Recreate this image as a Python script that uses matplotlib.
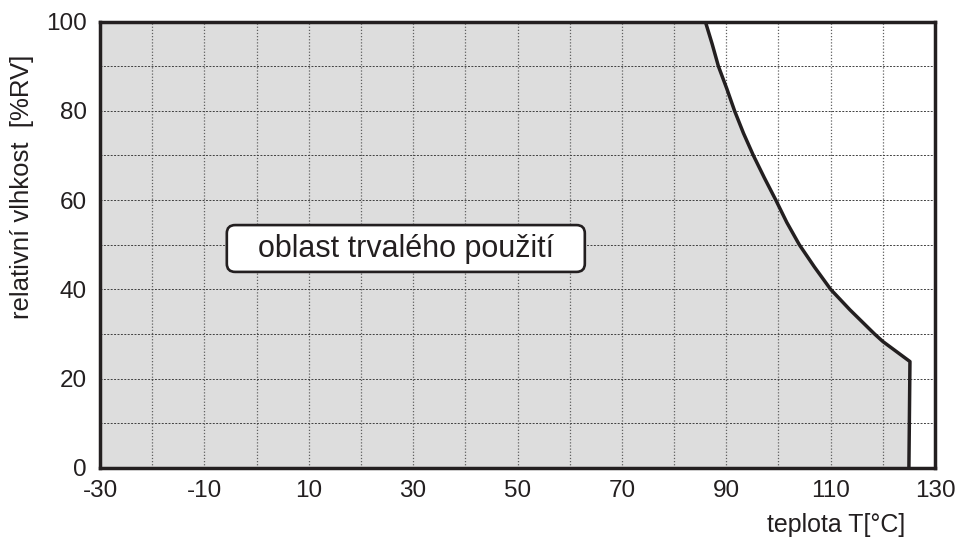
import matplotlib.pyplot as plt
from matplotlib.patches import FancyBboxPatch
import numpy as np

plt.rcParams['font.family'] = ['Liberation Sans', 'DejaVu Sans']
plt.rcParams['axes.unicode_minus'] = False

# hranice oblasti trvaleho pouziti
temp = [86.0, 87.3, 88.5, 90.1, 91.6, 93.3, 95.2, 97.3, 99.5, 101.6, 104.0,
        106.9, 110.0, 113.7, 118.4, 120.0, 125.2, 125.0]
rh = [100, 95, 90, 85, 80, 75, 70, 65, 60, 55, 50, 45, 40, 35.4, 30, 28.3, 23.8, 0]

x_labels = [-30, -10, 10, 30, 50, 70, 90, 110, 130]
y_labels = [0, 20, 40, 60, 80, 100]

ink = '#231f20'

fig = plt.figure(figsize=(9.6, 5.37), dpi=100)
ax = fig.add_axes([100/960, 1-467.7/537, 835/960, 446/537])

ax.set_xlim(-30, 130)
ax.set_ylim(0, 100)

fill_x = [-30] + temp + [-30]
fill_y = [100] + rh + [0]
ax.fill(fill_x, fill_y, color='#dddddd', zorder=1, lw=0)

ax.set_xticks(x_labels)
ax.set_xticks(np.arange(-20, 130, 20), minor=True)
ax.set_yticks(y_labels)
ax.set_yticks(np.arange(10, 100, 20), minor=True)
ax.tick_params(which='both', length=0)
ax.tick_params(axis='x', pad=9, labelsize=17.5, colors=ink)
ax.tick_params(axis='y', pad=9.5, labelsize=17.5, colors=ink)

ax.xaxis.grid(True, which='both', color='#606060', ls=(0, (1, 1.5)), lw=0.9, zorder=2)
ax.yaxis.grid(True, which='both', color='#404040', ls=(0, (2, 1.5)), lw=0.7, zorder=2)
ax.set_axisbelow(False)

ax.plot(temp, rh, color=ink, lw=2.5, zorder=3, solid_joinstyle='round')

for s in ax.spines.values():
    s.set_linewidth(2.5)
    s.set_color(ink)
    s.set_zorder(5)

box = FancyBboxPatch((-5.7, 43.9), 68.6, 10.5, boxstyle='round,pad=0,rounding_size=1.6',
                     fc='white', ec=ink, lw=1.9, zorder=6, mutation_aspect=1.15)
ax.add_patch(box)
ax.text(28.6, 49.0, 'oblast trvalého použití', fontsize=22, ha='center', va='center',
        color=ink, zorder=7)

fig.text(22/960, 1-187/537, 'relativní vlhkost  [%RV]', rotation=90, fontsize=18.5,
         ha='center', va='center', color=ink)
fig.text(905/960, 1-525/537, 'teplota T[°C]', fontsize=18, ha='right', va='center',
         color=ink)

plt.savefig('out.png', dpi=100)
